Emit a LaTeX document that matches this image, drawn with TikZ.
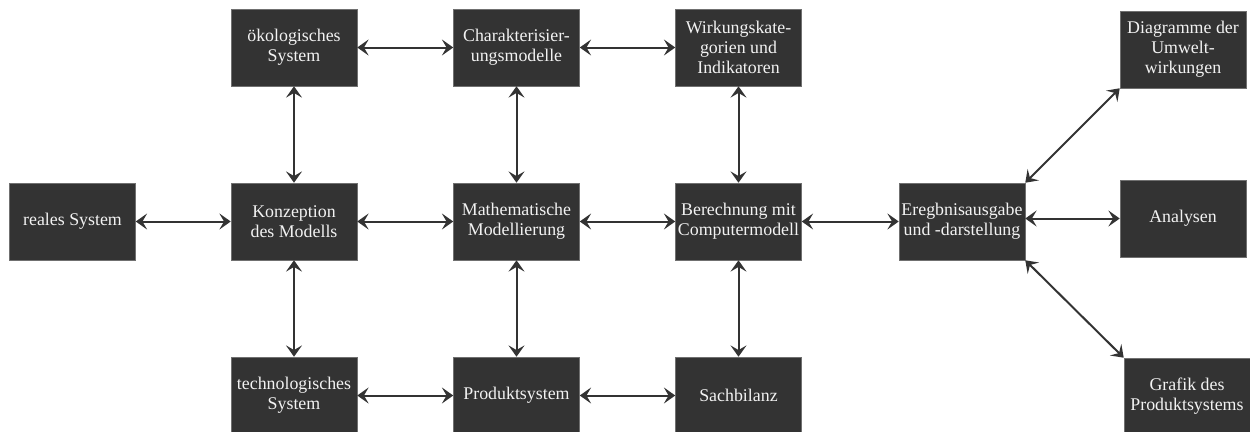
\documentclass[tikz,border=0pt]{standalone}
\usepackage{fontspec}
\setmainfont{Liberation Serif}
\usetikzlibrary{arrows.meta}
\definecolor{boxfill}{HTML}{333333}
\definecolor{boxedge}{HTML}{707070}
\definecolor{boxtext}{HTML}{F2F2F2}
\definecolor{linecol}{HTML}{333333}
\begin{document}
\begin{tikzpicture}[x=0.75pt,y=-0.75pt,
  blk/.style={rectangle, fill=boxfill, draw=boxedge, line width=0.4pt,
    minimum width=94.5pt, minimum height=57.75pt, inner sep=0pt,
    align=center, text=boxtext, font=\fontsize{13.4}{15}\selectfont},
  conn/.style={draw=linecol, line width=1.5pt,
    {Stealth[length=8.5pt,width=12pt,inset=3.5pt]}-{Stealth[length=8.5pt,width=12pt,inset=3.5pt]}}]
\clip (0,0) rectangle (1250,432);
\fill[white] (0,0) rectangle (1250,432);

% left column and main grid
\node[blk] (real) at (72.5,221.5) {reales System};
\node[blk] (oeko) at (294,47.5) {ökologisches\\System};
\node[blk] (konz) at (294,221.5) {Konzeption\\des Modells};
\node[blk] (tech) at (294,395.5) {technologisches\\System};
\node[blk] (char) at (516.5,47.5) {Charakterisier-\\ungsmodelle};
\node[blk] (math) at (516.5,221.5) {Mathematische\\Modellierung};
\node[blk] (prod) at (516.5,395.5) {Produktsystem};
\node[blk] (wirk) at (738.5,47.5) {Wirkungskate-\\gorien und\\Indikatoren};
\node[blk] (ber)  at (738.5,221.5) {Berechnung mit\\Computermodell};
\node[blk] (sach) at (738.5,395.5) {Sachbilanz};

% output side
\node[blk] (erg)  at (962,221.5) {Eregbnisausgabe\\und -darstellung};
\node[blk] (diag) at (1183,49.5) {Diagramme der\\Umwelt-\\wirkungen};
\node[blk] (ana)  at (1183,218.5) {Analysen};
\node[blk] (graf) at (1187,396.5) {Grafik des\\Produktsystems};

% connectors
\draw[conn] (real) -- (konz);
\draw[conn] (oeko) -- (konz);
\draw[conn] (konz) -- (tech);
\draw[conn] (konz) -- (math);
\draw[conn] (oeko) -- (char);
\draw[conn] (char) -- (wirk);
\draw[conn] (char) -- (math);
\draw[conn] (wirk) -- (ber);
\draw[conn] (math) -- (ber);
\draw[conn] (math) -- (prod);
\draw[conn] (tech) -- (prod);
\draw[conn] (prod) -- (sach);
\draw[conn] (ber) -- (sach);
\draw[conn] (ber) -- (erg);
\draw[conn] (erg.north east) -- (diag.south west);
\draw[conn] (erg.east |- ana.west) -- (ana.west);
\draw[conn] (erg.south east) -- (graf.north west);
\end{tikzpicture}
\end{document}
